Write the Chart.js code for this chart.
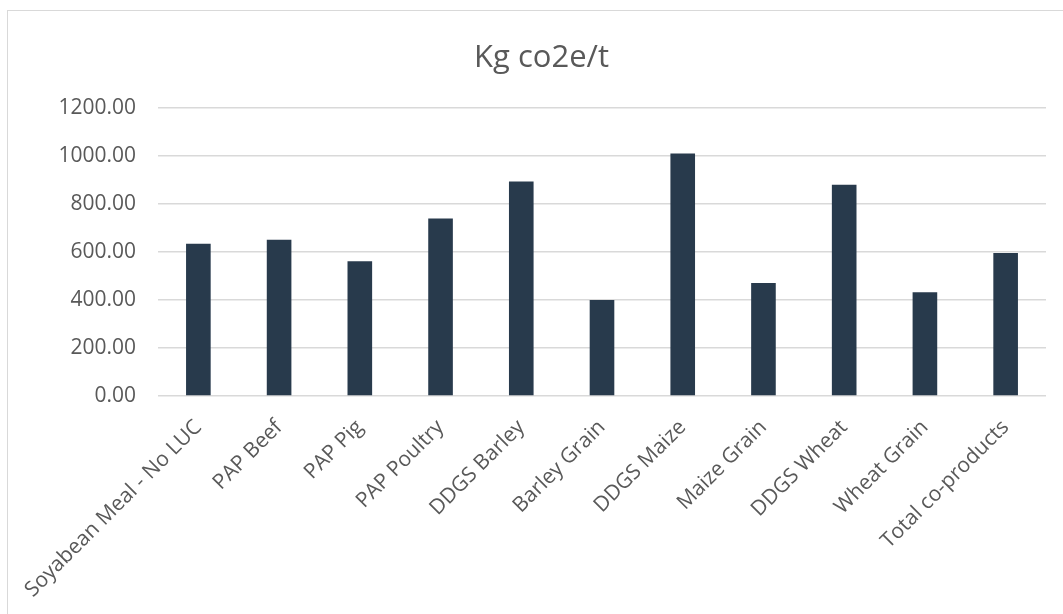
<!DOCTYPE html>
<html>
<head>
<meta charset="utf-8">
<script src="https://cdn.jsdelivr.net/npm/chart.js@4.4.1/dist/chart.umd.min.js"></script>
<style>
  html, body { margin: 0; padding: 0; background: #ffffff; overflow: hidden; }
  #frame {
    position: absolute; left: 7px; top: 10px;
    width: 1067px; height: 603px;
    border-left: 1px solid #d9d9d9; border-top: 1px solid #d9d9d9;
  }
  #wrap { position: absolute; left: 0; top: 0; width: 1067px; height: 603px; }
</style>
</head>
<body>
<div id="frame"><div id="wrap"><canvas id="chart"></canvas></div></div>
<script>
// Emissions per tonne of feed material
const categories = [
  'Soyabean Meal - No LUC', 'PAP Beef', 'PAP Pig', 'PAP Poultry', 'DDGS Barley',
  'Barley Grain', 'DDGS Maize', 'Maize Grain', 'DDGS Wheat', 'Wheat Grain', 'Total co-products'
];
const kgCo2ePerTonne = [635, 651, 562, 740, 894, 400, 1011, 471, 881, 433, 596];
const yTicks = [0, 200, 400, 600, 800, 1000, 1200];
const chartTitle = 'Kg co2e/t';

const labelColor = '#595959';
const gridColor = '#d9d9d9';
const barColor = '#283a4c';
const fontFamily = '"Open Sans", "DejaVu Sans", sans-serif';

new Chart(document.getElementById('chart'), {
  type: 'bar',
  data: {
    labels: categories,
    datasets: [{
      label: chartTitle,
      data: kgCo2ePerTonne,
      backgroundColor: barColor,
      borderWidth: 0,
      categoryPercentage: 1.0,
      barPercentage: 0.305
    }]
  },
  options: {
    responsive: true,
    maintainAspectRatio: false,
    animation: false,
    layout: { padding: { left: 29, right: 29, top: 0, bottom: 0 } },
    plugins: {
      legend: { display: false },
      tooltip: { enabled: false },
      title: {
        display: true,
        text: chartTitle,
        color: labelColor,
        font: { family: fontFamily, size: 31, weight: 'normal' },
        padding: { top: 29, bottom: 31 }
      }
    },
    scales: {
      x: {
        grid: { display: false, drawTicks: false },
        border: { display: false },
        ticks: {
          color: labelColor,
          font: { family: fontFamily, size: 21 },
          maxRotation: 45,
          minRotation: 45,
          autoSkip: false,
          padding: 19,
          labelOffset: 0
        },
        afterFit(scale) {
          scale.height = 218;
          // the long first label may hang past the y axis; keep the plot edge fixed
          scale.paddingLeft = 0;
          scale.paddingRight = 0;
        }
      },
      y: {
        min: 0,
        max: 1200,
        afterBuildTicks(scale) { scale.ticks = yTicks.map(v => ({ value: v })); },
        grid: { color: gridColor, lineWidth: 1.5, drawTicks: false },
        border: { display: false },
        ticks: {
          color: labelColor,
          font: { family: fontFamily, size: 21 },
          padding: 22,
          callback: v => Number(v).toFixed(2)
        },
        afterFit(scale) { scale.width = 121; }
      }
    }
  }
});
</script>
</body>
</html>
